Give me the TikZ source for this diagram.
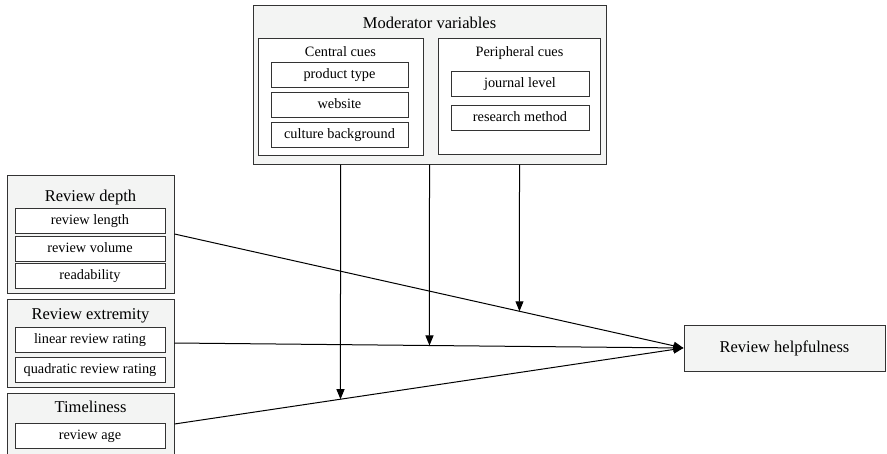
\documentclass[tikz,border=0pt]{standalone}
\usepackage{fontspec}
\setmainfont{Liberation Serif}
\definecolor{panelgray}{HTML}{F3F4F3}
\definecolor{framegray}{HTML}{333333}
\usetikzlibrary{arrows.meta}
\tikzset{
    groupbox/.style={
        draw=framegray,
        fill=panelgray,
        line width=1pt,
        inner sep=0pt
    },
    cuebox/.style={
        draw=framegray,
        fill=white,
        line width=1pt,
        inner sep=0pt
    },
    itembox/.style={
        draw=framegray,
        fill=white,
        line width=1pt,
        inner sep=0pt,
        minimum height=25pt,
        text height=10pt,
        text depth=3pt,
        font=\fontsize{14.3}{16}\selectfont
    },
    grouptitle/.style={
        inner sep=0pt,
        text height=11.5pt,
        text depth=3.5pt,
        font=\fontsize{16.5}{18}\selectfont
    },
    cuetitle/.style={
        inner sep=0pt,
        text height=10pt,
        text depth=3pt,
        font=\fontsize{14.3}{16}\selectfont
    },
    effectarrow/.style={
        -{Triangle[length=10pt,width=8pt]},
        draw=black,
        line width=1pt
    }
}
\begin{document}
\begin{tikzpicture}[x=1pt,y=-1pt]
    \useasboundingbox (0,0) rectangle (887,453);

    % moderators
    \node[groupbox, minimum width=353, minimum height=159] (moderator) at (429.5,84.5) {};
    \node[grouptitle] (moderatortitle) at (429.5,24) {Moderator variables};
    \node[cuebox, minimum width=165, minimum height=117] (central) at (340.5,96.5) {};
    \node[cuetitle] (centraltitle) at (340.5,53) {Central cues};
    \node[itembox, minimum width=137] (producttype) at (339.5,74.5) {product type};
    \node[itembox, minimum width=137] (website) at (339.5,105) {website};
    \node[itembox, minimum width=137] (culture) at (339.5,135) {culture background};
    \node[cuebox, minimum width=162, minimum height=116] (peripheral) at (519.5,96) {};
    \node[cuetitle] (peripheraltitle) at (519.5,53) {Peripheral cues};
    \node[itembox, minimum width=138] (journal) at (520,83.5) {journal level};
    \node[itembox, minimum width=138] (method) at (520,118) {research method};

    % predictors
    \node[groupbox, minimum width=167, minimum height=118] (depth) at (90.5,234) {};
    \node[grouptitle] (depthtitle) at (90.5,197.5) {Review depth};
    \node[itembox, minimum width=150] (length) at (90,220.5) {review length};
    \node[itembox, minimum width=150] (volume) at (90,248.5) {review volume};
    \node[itembox, minimum width=150] (readability) at (90,276) {readability};
    \node[groupbox, minimum width=167, minimum height=88] (extremity) at (90.5,343) {};
    \node[grouptitle] (extremitytitle) at (90.5,315.5) {Review extremity};
    \node[itembox, minimum width=150] (linear) at (90,339.5) {linear review rating};
    \node[itembox, minimum width=150] (quadratic) at (90,369.5) {quadratic review rating};
    \node[groupbox, minimum width=167, minimum height=62] (timeliness) at (90.5,424) {};
    \node[grouptitle] (timelinesstitle) at (90.5,408.5) {Timeliness};
    \node[itembox, minimum width=150] (age) at (90,436) {review age};

    % outcome
    \node[groupbox, minimum width=201, minimum height=46,
          font=\fontsize{16.5}{18}\selectfont] (helpfulness) at (784.5,348) {Review helpfulness};

    \draw[effectarrow] (depth.east) -- (helpfulness.west);
    \draw[effectarrow] (extremity.east) -- (helpfulness.west);
    \draw[effectarrow] (timeliness.east) -- (helpfulness.west);

    \coordinate (onage) at (intersection of timeliness.east--helpfulness.west and central.north--central.south);
    \coordinate (onextremity) at (intersection of extremity.east--helpfulness.west and moderator.north--moderator.south);
    \coordinate (ondepth) at (intersection of depth.east--helpfulness.west and peripheral.north--peripheral.south);

    \draw[effectarrow] (central |- moderator.south) -- (onage);
    \draw[effectarrow] (moderator.south) -- (onextremity);
    \draw[effectarrow] (peripheral |- moderator.south) -- (ondepth);
\end{tikzpicture}
\end{document}
